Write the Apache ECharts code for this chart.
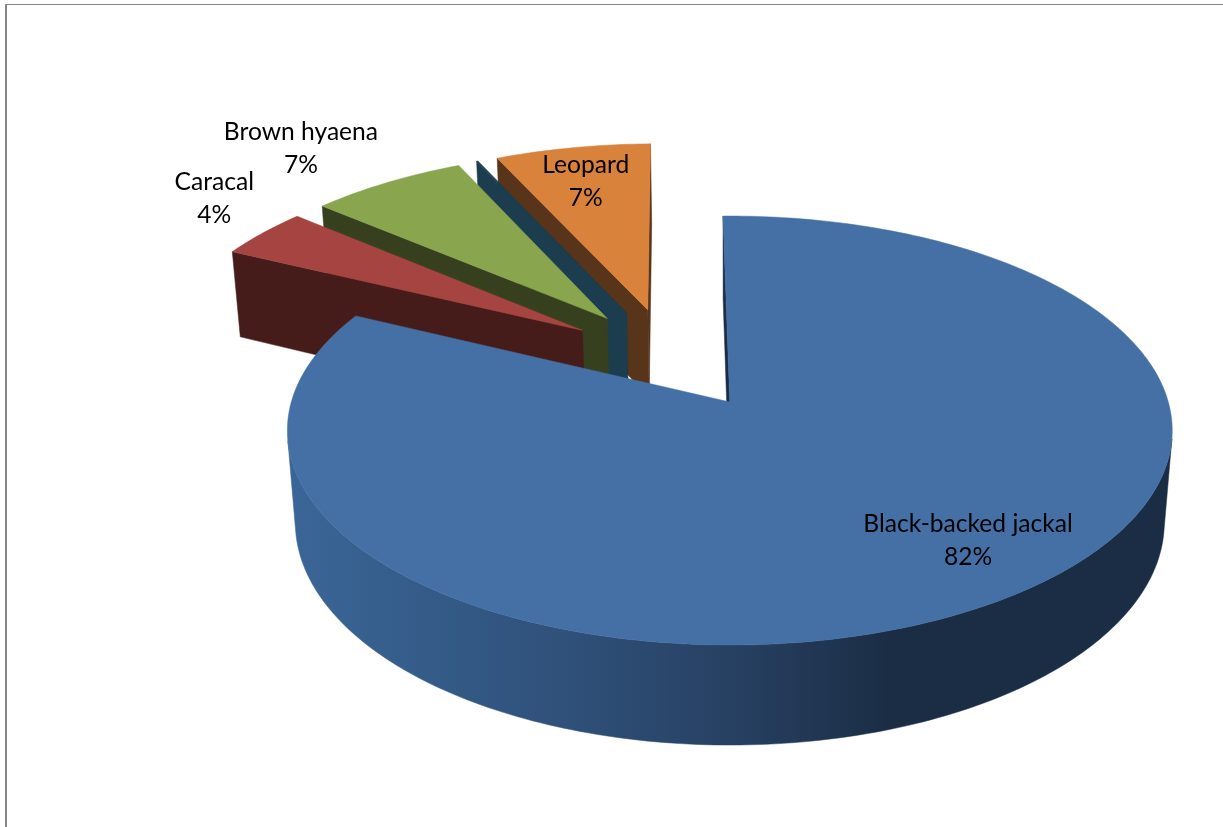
<!DOCTYPE html>
<html><head><meta charset="utf-8">
<script src="https://cdn.jsdelivr.net/npm/echarts@6/dist/echarts.min.js"></script>
<style>html,body{margin:0;padding:0;background:#fff}#c{width:1223px;height:827px}</style>
</head><body><div id="c"></div>
<script>
// ---- data ----
const categories = ['Black-backed jackal', 'Caracal', 'Brown hyaena', '', 'Leopard'];
const values = [82.39, 4, 6.78, 0.06, 6.77];
const percentLabels = ['82%', '4%', '7%', '', '7%'];

// ---- styles ----
const topColors = ['#4570A6', '#A54441', '#89A54E', '#1B3D4D', '#D9823B'];
const wallColors = ['#1B2D45', '#451C1A', '#37401E', '#1B3D4D', '#57341A'];
const drawOrder = [4, 3, 2, 1, 0];
// label offset (px) from the projected rim midpoint of each slice
const labelShift = [[-28.5, -61], [-48.5, -34], [-86, -34], [0, 0], [13, 34]];

// ---- 3D pie projection ----
const P = {x0: 729.8, y0: 402, a: 438.5, b: 210.7, c: 92.9, t: 0.133, s: -0.018};
const ROTATION = -1.0, EXPLODE = 0.25, BASE_EXPLODE = 0.262;
function project(u, v, z) {
  const d = 1 - P.t * v - P.s * z;
  return [P.x0 + P.a * u / d, P.y0 + (P.b * v + P.c * z) / d];
}
const total = values.reduce((s, x) => s + x, 0);
const rad = d => d * Math.PI / 180;
const dir = d => [Math.sin(rad(d)), -Math.cos(rad(d))];
let cursor = ROTATION;
const wedges = values.map(val => {
  const w = {from: cursor, to: cursor + val / total * 360};
  cursor = w.to;
  w.mid = (w.from + w.to) / 2;
  return w;
});
const base = dir(wedges[0].mid);
wedges.forEach((w, i) => {
  const m = dir(w.mid);
  w.ou = i ? EXPLODE * m[0] - BASE_EXPLODE * base[0] : 0;
  w.ov = i ? EXPLODE * m[1] - BASE_EXPLODE * base[1] : 0;
});
const at = (w, deg, r, z) => {
  const q = dir(deg);
  return project(w.ou + r * q[0], w.ov + r * q[1], z);
};
function area(pts) {
  let s = 0;
  pts.forEach((p, i) => {
    const n = pts[(i + 1) % pts.length];
    s += p[0] * n[1] - n[0] * p[1];
  });
  return s;
}
const poly = (points, fill) => ({
  type: 'polygon', shape: {points},
  style: {fill, stroke: fill, lineWidth: 0.5}, silent: true
});
const sideGradient = new echarts.graphic.LinearGradient(288, 0, 1172, 0, [
  {offset: 0, color: '#3A6697'},
  {offset: 0.32, color: '#2F5079'},
  {offset: 0.52, color: '#263F60'},
  {offset: 0.68, color: '#1B2D45'},
  {offset: 1, color: '#1B2D45'}
], true);

function wedgeShapes(i) {
  const w = wedges[i], kids = [];
  const wall = i === 0 ? sideGradient : wallColors[i];
  const steps = Math.max(1, Math.ceil(w.to - w.from));
  let run = [];
  const flush = () => {
    if (run.length > 1) {
      const tops = run.map(d => at(w, d, 1, 0));
      const bots = run.map(d => at(w, d, 1, 1)).reverse();
      kids.push(poly(tops.concat(bots), wall));
    }
    run = [];
  };
  for (let k = 0; k < steps; k++) {
    const a = w.from + (w.to - w.from) * k / steps;
    const b = w.from + (w.to - w.from) * (k + 1) / steps;
    const q = [at(w, a, 1, 0), at(w, b, 1, 0), at(w, b, 1, 1), at(w, a, 1, 1)];
    if (area(q) < 0) { if (!run.length) run.push(a); run.push(b); }
    else flush();
  }
  flush();
  const start = [at(w, w.from, 0, 0), at(w, w.from, 1, 0), at(w, w.from, 1, 1), at(w, w.from, 0, 1)];
  const end = [at(w, w.to, 1, 0), at(w, w.to, 0, 0), at(w, w.to, 0, 1), at(w, w.to, 1, 1)];
  [start, end].forEach(q => { if (area(q) < 0) kids.push(poly(q, wallColors[i])); });
  const top = [at(w, w.from, 0, 0)];
  for (let k = 0; k <= steps; k++) top.push(at(w, w.from + (w.to - w.from) * k / steps, 1, 0));
  kids.push(poly(top, topColors[i]));
  return {type: 'group', children: kids};
}

const chart = echarts.init(document.getElementById('c'), null, {renderer: 'canvas'});
chart.setOption({
  animation: false,
  backgroundColor: '#ffffff',
  graphic: [
    {type: 'rect', shape: {x: 5, y: 4, width: 1218, height: 1}, style: {fill: '#868686'}, silent: true},
    {type: 'rect', shape: {x: 5, y: 4, width: 2, height: 823}, style: {fill: '#868686'}, silent: true}
  ],
  series: [
    {
      type: 'custom', coordinateSystem: 'none', silent: true, z: 2,
      data: drawOrder.map(i => ({name: categories[i], value: [i, values[i]]})),
      renderItem: (params, api) => wedgeShapes(api.value(0))
    },
    {
      type: 'custom', coordinateSystem: 'none', silent: true, z: 3,
      data: categories.map((c, i) => ({name: c, value: [i, values[i]]})),
      renderItem: (params, api) => {
        const i = api.value(0);
        if (!categories[i]) return null;
        const w = wedges[i], p = at(w, w.mid, 1, 0);
        return {
          type: 'text', silent: true,
          x: p[0] + labelShift[i][0], y: p[1] + labelShift[i][1],
          style: {
            text: categories[i] + '\n' + percentLabels[i],
            font: '24.6px Lato', lineHeight: 33, fill: '#000',
            align: 'center', verticalAlign: 'middle'
          }
        };
      }
    }
  ]
});
</script></body></html>
